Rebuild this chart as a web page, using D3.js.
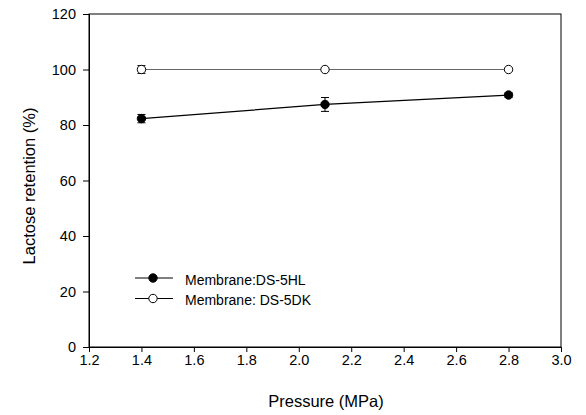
<!DOCTYPE html>
<html>
<head>
<meta charset="utf-8">
<script src="https://cdn.jsdelivr.net/npm/d3@7"></script>
<style>
  body { margin: 0; background: #fff; }
  text { font-family: "Liberation Sans", Arial, sans-serif; fill: #000; }
</style>
</head>
<body>
<div id="chart"></div>
<script>
// data
const pressure = [1.4, 2.1, 2.8];
const hlRetention = [82.3, 87.4, 90.8];
const hlError = [1.5, 2.5, 0.8];
const dkRetention = [100, 100, 100];
const dkError = [1.4, 0.4, 0.3];
const xTicks = [1.2, 1.4, 1.6, 1.8, 2.0, 2.2, 2.4, 2.6, 2.8, 3.0];
const yTicks = [0, 20, 40, 60, 80, 100, 120];
const legendLabels = ['Membrane:DS-5HL', 'Membrane: DS-5DK'];

const W = 586, H = 415;
const margin = { top: 14, right: 25, bottom: 68, left: 89 };
const width = W - margin.left - margin.right;
const height = H - margin.top - margin.bottom;

const svg = d3.select('#chart').append('svg')
    .attr('width', W).attr('height', H);
const g = svg.append('g').attr('transform', `translate(${margin.left},${margin.top})`);

const x = d3.scaleLinear().domain([1.2, 3.0]).range([0, width]);
const y = d3.scaleLinear().domain([0, 120]).range([height, 0]);

// frame
g.append('rect').attr('width', width).attr('height', height)
    .attr('fill', 'none').attr('stroke', '#000').attr('stroke-width', 1);

const xAxis = g.append('g').attr('transform', `translate(0,${height})`)
    .call(d3.axisBottom(x).tickValues(xTicks).tickFormat(d3.format('.1f')).tickSize(5).tickPadding(3));
const yAxis = g.append('g')
    .call(d3.axisLeft(y).tickValues(yTicks).tickFormat(d3.format('d')).tickSize(6).tickPadding(7));
[xAxis, yAxis].forEach(a => {
    a.select('.domain').attr('stroke', '#000');
    a.selectAll('line').attr('stroke', '#000');
    a.selectAll('text').style('font-size', '14.5px').style('fill', '#000');
});

// axis titles
svg.append('text').attr('x', 326).attr('y', 407)
    .attr('text-anchor', 'middle').style('font-size', '16.5px').text('Pressure (MPa)');
svg.append('text').attr('transform', `translate(35,186) rotate(-90)`)
    .attr('text-anchor', 'middle').style('font-size', '16.5px').text('Lactose retention (%)');

const series = [
    { vals: hlRetention, err: hlError, fill: '#000', line: '#000' },
    { vals: dkRetention, err: dkError, fill: '#fff', line: '#666' }
];

const line = d3.line().x(d => x(d.x)).y(d => y(d.y));

series.forEach(s => {
    const pts = pressure.map((p, i) => ({ x: p, y: s.vals[i], e: s.err[i] }));
    g.append('path').datum(pts).attr('d', line)
        .attr('fill', 'none').attr('stroke', s.line).attr('stroke-width', 1.2);

    // error bars with caps
    const eb = g.append('g').selectAll('g').data(pts).enter().append('g');
    eb.append('line')
        .attr('x1', d => x(d.x)).attr('x2', d => x(d.x))
        .attr('y1', d => y(d.y - d.e)).attr('y2', d => y(d.y + d.e))
        .attr('stroke', '#000');
    eb.selectAll('.cap').data(d => [d.y - d.e, d.y + d.e].map(v => ({ x: d.x, v })))
        .enter().append('line')
        .attr('x1', d => x(d.x) - 4).attr('x2', d => x(d.x) + 4)
        .attr('y1', d => y(d.v)).attr('y2', d => y(d.v))
        .attr('stroke', '#000');

    g.append('g').selectAll('circle').data(pts).enter().append('circle')
        .attr('cx', d => x(d.x)).attr('cy', d => y(d.y)).attr('r', 4.2)
        .attr('fill', s.fill).attr('stroke', '#000').attr('stroke-width', 1);
});

// legend
const legend = svg.append('g');
legendLabels.forEach((lab, i) => {
    const ly = 278 + i * 20.5;
    legend.append('line').attr('x1', 135).attr('x2', 173).attr('y1', ly).attr('y2', ly)
        .attr('stroke', '#000');
    legend.append('circle').attr('cx', 153).attr('cy', ly).attr('r', 4.2)
        .attr('fill', series[i].fill).attr('stroke', '#000');
    legend.append('text').attr('x', 185).attr('y', ly + 6.5)
        .style('font-size', '14px').text(lab);
});
</script>
</body>
</html>
